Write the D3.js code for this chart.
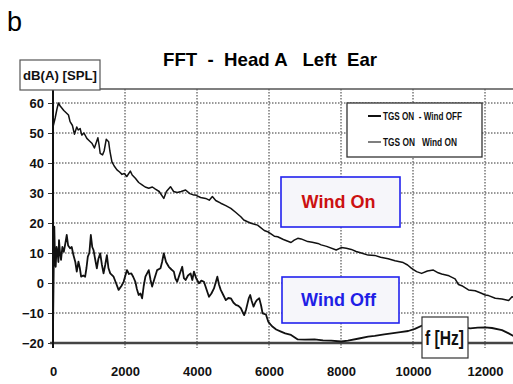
<!DOCTYPE html>
<html>
<head>
<meta charset="utf-8">
<script src="https://cdn.jsdelivr.net/npm/d3@7"></script>
<style>
  body { margin: 0; background: #fff; }
  svg { display: block; }
  text { font-family: "Liberation Sans", Arial, sans-serif; }
</style>
</head>
<body>
<div id="chart-area"></div>
<script>
// FFT spectrum - Head A, left ear

const xTicks = [0, 2000, 4000, 6000, 8000, 10000, 12000];
const yTicks = [-20, -10, 0, 10, 20, 30, 40, 50, 60];

// wind on (upper trace) : [Hz, dB(A)]
const windOn = [
  [0, 52], [60, 55], [110, 58], [150, 60], [200, 59], [300, 57.5], [430, 56], [474, 53.8],
  [540, 52.5], [595, 49.6], [660, 52], [700, 51], [753, 51.5], [800, 49.3], [860, 50],
  [940, 48.2], [1000, 47.5], [1080, 46.6], [1150, 45], [1247, 48.4], [1280, 46], [1311, 43.2],
  [1376, 42.7], [1420, 44], [1479, 47.9], [1545, 47.1], [1580, 44], [1637, 40.4], [1700, 39],
  [1777, 37.7], [1850, 37], [1917, 36.2], [1980, 36.5], [2050, 35.5], [2148, 37.3], [2200, 36],
  [2288, 34.9], [2380, 33.5], [2475, 32.7], [2560, 32], [2660, 31.6], [2760, 32], [2845, 31.3],
  [2950, 30.5], [3077, 28.2], [3150, 30.5], [3264, 32.1], [3350, 30.5], [3450, 30.2], [3560, 30.5],
  [3683, 31], [3800, 29.8], [3915, 29.3], [3960, 29.3], [4100, 28.5], [4240, 28.2], [4340, 27.6],
  [4427, 28.8], [4520, 27.5], [4660, 26.6], [4800, 25.8], [4940, 24.9], [5080, 23.5], [5217, 22.1],
  [5300, 21], [5404, 20.4], [5500, 19.9], [5683, 19.3], [5868, 17.5], [5962, 17.1], [6147, 15.6],
  [6241, 15.4], [6400, 14.5], [6612, 13.5], [6700, 14.3], [6800, 14.9], [6891, 14.7], [7078, 13.8],
  [7200, 13.6], [7357, 13.2], [7450, 12.7], [7600, 12.2], [7868, 11], [8007, 11.8], [8147, 11.6],
  [8286, 11.2], [8420, 10.5], [8565, 10], [8752, 9.3], [8937, 9.2], [9100, 8.6], [9310, 8.1],
  [9500, 7.4], [9728, 6.8], [9850, 6], [9960, 4.9], [10100, 3.8], [10239, 3.2], [10400, 4],
  [10565, 4.3], [10700, 3.4], [10797, 3], [11000, 2.4], [11169, 1.4], [11263, -0.5], [11355, -0.9],
  [11542, -2.3], [11727, -2.6], [11900, -3.4], [12006, -4], [12100, -4.2], [12285, -5.1],
  [12472, -5.3], [12658, -5.8], [12750, -4.6], [12850, -5]
];

// wind off (lower trace) : [Hz, dB(A)]
const windOff = [
  [0, -16], [20, 5], [36, 18.8], [55, 8], [75, 5.4], [100, 12], [130, 9.9], [150, 7], [167, 14.3],
  [195, 10], [223, 7.7], [260, 12], [300, 10.4], [340, 13], [382, 16], [420, 12.5], [474, 11.6],
  [520, 12], [567, 9.3], [620, 7], [660, 3.8], [707, 7.1], [745, 5], [781, 2.1], [840, 2.5],
  [893, 2.1], [930, 5], [967, 8.8], [1010, 10], [1051, 16], [1090, 12], [1125, 11], [1170, 8],
  [1218, 4.9], [1260, 8], [1311, 9.9], [1360, 6], [1404, 3.2], [1450, 6], [1497, 9.3], [1540, 5],
  [1590, 3.2], [1683, 2.1], [1750, 0], [1822, -2.3], [1900, -1], [1961, 0.4], [2055, 4.3],
  [2110, 3], [2176, 3.2], [2230, 2], [2288, 0.4], [2330, -2], [2380, -4], [2430, -3.5],
  [2475, -5.1], [2520, -1], [2567, 2.1], [2660, 4.3], [2710, 1], [2754, -1.2], [2820, 1.5],
  [2893, 4.3], [2986, 4.9], [3030, 7], [3077, 9.9], [3140, 7], [3217, 5.4], [3290, 4.5],
  [3357, 3.8], [3400, 1.5], [3450, 0.4], [3520, 3], [3590, 5.4], [3636, 1.6], [3683, 1],
  [3750, 2.5], [3822, 3.2], [3870, 1], [3915, 3.8], [3980, 1.5], [4054, -0.1], [4120, 0.8],
  [4193, 0.4], [4260, -2], [4333, -4.6], [4400, -3.5], [4472, -1.8], [4565, 2.1], [4610, -0.5],
  [4659, -2.3], [4730, -4], [4800, -5.7], [4870, -5], [4940, -5.1], [5010, -6.5], [5078, -7.3],
  [5150, -7.6], [5217, -8.4], [5260, -9.5], [5310, -10.7], [5360, -9], [5404, -6.8], [5440, -5],
  [5478, -4], [5520, -6], [5571, -7.9], [5620, -6.5], [5664, -5.7], [5729, -5.1], [5780, -7.5],
  [5822, -10.1], [5915, -10.5], [5980, -12.9], [6040, -13.8], [6102, -14.6], [6200, -15.5],
  [6333, -16.2], [6450, -16.8], [6612, -17.3], [6800, -18.8], [7000, -18.9], [7263, -18.8],
  [7500, -19.1], [7728, -19.2], [8007, -19.5], [8193, -19.2], [8500, -18.5], [8752, -17.9],
  [8937, -17.6], [9200, -17.1], [9402, -16.8], [9650, -16.4], [9868, -16], [10053, -15.3],
  [10286, -14], [10500, -13], [10800, -13], [11100, -13.8], [11350, -14.6], [11587, -15.1],
  [11800, -14.9], [12006, -14.8], [12193, -15], [12472, -15.7], [12658, -16.8], [12850, -18]
];

const legendItems = ['TGS ON  - Wind OFF', 'TGS ON   Wind ON'];

(() => {
  const widthSvg = 513;
  const heightSvg = 384;
  const plot = { left: 53, top: 89, bottom: 343, right: 513 };

  const scaleX = d3.scaleLinear()
    .domain([0, 12000])
    .range([53, 485]);

  const scaleY = d3.scaleLinear()
    .domain([-20, 60])
    .range([343, 103]);

  const svg = d3.select('#chart-area')
    .append('svg')
      .attr('width', widthSvg)
      .attr('height', heightSvg);

  svg.append('clipPath')
    .attr('id', 'plot-clip')
    .append('rect')
      .attr('x', plot.left)
      .attr('y', plot.top - 2)
      .attr('width', plot.right - plot.left)
      .attr('height', plot.bottom - plot.top + 6);

  // panel letter + title
  svg.append('text')
    .attr('x', 7)
    .attr('y', 31)
    .attr('font-size', 27)
    .text('b');

  svg.append('text')
    .attr('x', 270)
    .attr('y', 66)
    .attr('text-anchor', 'middle')
    .attr('font-size', 19)
    .attr('font-weight', 'bold')
    .attr('textLength', 214)
    .attr('lengthAdjust', 'spacingAndGlyphs')
    .style('white-space', 'pre')
    .text('FFT  -  Head A   Left  Ear');

  // dotted grid
  const grid = svg.append('g')
    .attr('stroke', '#333')
    .attr('stroke-width', 1)
    .attr('stroke-dasharray', '1.5,1.5');

  grid.selectAll('.gy')
    .data(yTicks.filter(d => d > -20))
    .enter()
    .append('line')
      .attr('x1', plot.left)
      .attr('x2', plot.right)
      .attr('y1', d => scaleY(d))
      .attr('y2', d => scaleY(d));

  grid.selectAll('.gx')
    .data(xTicks.filter(d => d > 0))
    .enter()
    .append('line')
      .attr('x1', d => scaleX(d))
      .attr('x2', d => scaleX(d))
      .attr('y1', plot.top)
      .attr('y2', plot.bottom + 5);

  // frame top
  svg.append('line')
    .attr('x1', plot.left)
    .attr('x2', plot.right)
    .attr('y1', plot.top)
    .attr('y2', plot.top)
    .attr('stroke', '#555')
    .attr('stroke-width', 1.5);

  // axes
  const axisX = d3.axisBottom(scaleX)
    .tickValues(xTicks)
    .tickFormat(d3.format('d'))
    .tickSize(0)
    .tickPadding(24);

  const axisY = d3.axisLeft(scaleY)
    .tickValues(yTicks)
    .tickSize(5)
    .tickPadding(4);

  const groupAxisX = svg.append('g')
    .attr('transform', `translate(0, ${plot.bottom})`)
    .call(axisX);

  groupAxisX.select('.domain').remove();
  groupAxisX.selectAll('text')
    .attr('font-size', 13)
    .attr('font-weight', 'bold')
    .attr('fill', '#111')
    .attr('font-family', '"Liberation Sans", Arial, sans-serif');

  const groupAxisY = svg.append('g')
    .attr('transform', `translate(${plot.left}, 0)`)
    .call(axisY);

  groupAxisY.select('.domain').remove();
  groupAxisY.selectAll('line').attr('stroke', '#333');
  groupAxisY.selectAll('text')
    .attr('font-size', 13)
    .attr('font-weight', 'bold')
    .attr('fill', '#111')
    .attr('font-family', '"Liberation Sans", Arial, sans-serif');

  svg.append('line')
    .attr('x1', plot.left - 3)
    .attr('x2', plot.right)
    .attr('y1', plot.bottom)
    .attr('y2', plot.bottom)
    .attr('stroke', '#444')
    .attr('stroke-width', 2.5);

  svg.append('line')
    .attr('x1', plot.left)
    .attr('x2', plot.left)
    .attr('y1', plot.top)
    .attr('y2', plot.bottom + 5)
    .attr('stroke', '#111')
    .attr('stroke-width', 2);

  // traces
  const line = d3.line()
    .x(d => scaleX(d[0]))
    .y(d => scaleY(d[1]));

  const traces = svg.append('g')
    .attr('clip-path', 'url(#plot-clip)')
    .attr('fill', 'none')
    .attr('stroke-linejoin', 'round');

  traces.append('path')
    .datum(windOn)
    .attr('d', line)
    .attr('stroke', '#111')
    .attr('stroke-width', 1.5);

  traces.append('path')
    .datum(windOff)
    .attr('d', line)
    .attr('stroke', '#111')
    .attr('stroke-width', 1.8);

  // annotation boxes
  const labelBox = (x, y, w, h, txt, color) => {
    svg.append('rect')
      .attr('x', x)
      .attr('y', y)
      .attr('width', w)
      .attr('height', h)
      .attr('fill', '#f6f6fa')
      .attr('stroke', '#2222ee')
      .attr('stroke-width', 1.6);
    svg.append('text')
      .attr('x', x + w / 2 - 2)
      .attr('y', y + h / 2 + 6)
      .attr('text-anchor', 'middle')
      .attr('font-size', 18)
      .attr('font-weight', 'bold')
      .attr('fill', color)
      .text(txt);
  };

  labelBox(281, 177, 119, 50, 'Wind On', '#cc1111');
  labelBox(282, 277, 117, 46, 'Wind Off', '#1f1fe6');

  // f [Hz] box
  svg.append('rect')
    .attr('x', 422)
    .attr('y', 317)
    .attr('width', 46)
    .attr('height', 41)
    .attr('fill', '#fff')
    .attr('stroke', '#333')
    .attr('stroke-width', 1.2);

  svg.append('text')
    .attr('x', 425)
    .attr('y', 345)
    .attr('font-size', 21)
    .attr('font-weight', 'bold')
    .attr('fill', '#111')
    .attr('textLength', 39)
    .attr('lengthAdjust', 'spacingAndGlyphs')
    .text('f [Hz]');

  // y unit box
  svg.append('rect')
    .attr('x', 20)
    .attr('y', 60)
    .attr('width', 80)
    .attr('height', 30)
    .attr('fill', '#fff')
    .attr('stroke', '#555')
    .attr('stroke-width', 1.2);

  svg.append('text')
    .attr('x', 60)
    .attr('y', 80)
    .attr('text-anchor', 'middle')
    .attr('font-size', 13)
    .attr('font-weight', 'bold')
    .attr('fill', '#111')
    .attr('textLength', 74)
    .attr('lengthAdjust', 'spacingAndGlyphs')
    .text('dB(A) [SPL]');

  // legend
  const legend = svg.append('g')
    .attr('transform', 'translate(347, 103)');

  legend.append('rect')
    .attr('width', 135)
    .attr('height', 54)
    .attr('fill', '#fff')
    .attr('stroke', '#333')
    .attr('stroke-width', 1.3);

  const legendWidths = [79, 74];

  legendItems.forEach((item, i) => {
    const legendRow = legend.append('g')
      .attr('transform', `translate(0, ${13 + i * 26})`);

    legendRow.append('line')
      .attr('x1', 21)
      .attr('x2', 34)
      .attr('stroke', i === 0 ? '#111' : '#555')
      .attr('stroke-width', i === 0 ? 2 : 1.5);

    legendRow.append('text')
      .attr('x', 36)
      .attr('y', 3.5)
      .attr('font-size', 10)
      .attr('font-weight', 'bold')
      .attr('fill', '#111')
      .attr('textLength', legendWidths[i])
      .attr('lengthAdjust', 'spacingAndGlyphs')
      .style('white-space', 'pre')
      .text(item);
  });
})();
</script>
</body>
</html>
